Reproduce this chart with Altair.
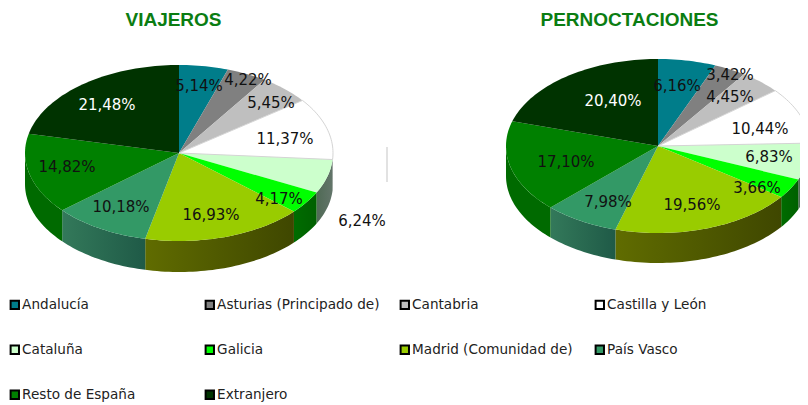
import math
import altair as alt

NAMES = ["Andalucía", "Asturias (Principado de)", "Cantabria", "Castilla y León", "Cataluña",
         "Galicia", "Madrid (Comunidad de)", "País Vasco", "Resto de España", "Extranjero"]
VIAJEROS = [5.14, 4.22, 5.45, 11.37, 6.24, 4.17, 16.93, 10.18, 14.82, 21.48]
PERNOCT = [6.16, 3.42, 4.45, 10.44, 6.83, 3.66, 19.56, 7.98, 17.10, 20.40]
COLORS = ["#007d8a", "#808080", "#bfbfbf", "#ffffff", "#ccffcc",
          "#00ff00", "#99cc00", "#339966", "#008000", "#003300"]
# left / right colour of the visible wall of each slice
WALLS = {"Castilla y León": ("#cfcfcf", "#cfcfcf"),
         "Cataluña": ("#4f6a55", "#63756a"),
         "Galicia": ("#006c00", "#006000"),
         "Madrid (Comunidad de)": ("#606c00", "#3f4700"),
         "País Vasco": ("#33795a", "#1f5a47"),
         "Resto de España": ("#006a00", "#006a00")}

# layout of each pie, separate from the data
LEFT = dict(title="VIAJEROS", tx=165.5, cx=171, cy=145, rx=154, ry=88, depth=31)
RIGHT = dict(title="PERNOCTACIONES", tx=621.5, cx=650, cy=138, rx=152, ry=87, depth=30)
# label centres in chart pixels
LEFT_LABELS = [(191, 78), (240, 72), (263, 95), (277, 131), (354, 213),
               (271, 191), (203, 207), (113, 199), (59, 159), (99, 97)]
RIGHT_LABELS = [(669, 78), (722, 67), (722, 89), (752, 121), (761, 149),
                (749, 180), (684, 197), (600, 194), (558, 154), (605, 93)]
FONT = "DejaVu Sans"
TITLE_FONT = "Liberation Sans"


def pt(p, deg, dy=0.0):
    t = math.radians(deg)
    return [p["cx"] + p["rx"] * math.sin(t), p["cy"] - p["ry"] * math.cos(t) + dy]


def arc(a, b):
    n = max(2, int(abs(b - a) / 1.5) + 1)
    return [a + (b - a) * i / n for i in range(n + 1)]


def feature(name, ring):
    return {"type": "Feature", "properties": {"name": name},
            "geometry": {"type": "Polygon", "coordinates": [ring + [ring[0]]]}}


def build(p, values):
    tops, walls = [], []
    acc = 0.0
    for name, v in zip(NAMES, values):
        a, b = acc * 3.6, (acc + v) * 3.6
        acc += v
        centre = [p["cx"], p["cy"]]
        tops.append(feature(name, [centre] + [pt(p, d) for d in arc(a, b)]))
        lo, hi = max(a, 90.0), min(b, 270.0)
        if hi > lo:
            top = [pt(p, d) for d in arc(lo, hi)]
            bottom = [pt(p, d, p["depth"]) for d in arc(hi, lo)]
            walls.append((name, feature(name, top + bottom)))
    return tops, walls


PROJ = dict(type="identity", scale=1, translate=[0, 0])
layers = []
all_tops = []
text_rows = []
for p, vals, pos in ((LEFT, VIAJEROS, LEFT_LABELS), (RIGHT, PERNOCT, RIGHT_LABELS)):
    tops, walls = build(p, vals)
    all_tops += tops
    for name, f in walls:
        c0, c1 = WALLS[name]
        grad = alt.LinearGradient(gradient="linear", x1=0, y1=0, x2=1, y2=0,
                                  stops=[alt.GradientStop(offset=0, color=c0),
                                         alt.GradientStop(offset=1, color=c1)])
        layers.append(alt.Chart(alt.InlineData(values=[f])).mark_geoshape(
            fill=grad, stroke=None, strokeWidth=0).project(**PROJ))
    for name, v, (x, y) in zip(NAMES, vals, pos):
        text_rows.append({"lon": x, "lat": y, "label": f"{v:.2f}%".replace(".", ","),
                          "name": name})

top_layer = alt.Chart(alt.InlineData(values=all_tops)).mark_geoshape(strokeWidth=0).encode(
    fill=alt.Fill("properties.name:N",
                  scale=alt.Scale(domain=NAMES, range=COLORS),
                  legend=alt.Legend(orient="none", legendX=0, legendY=290, columns=4,
                                    direction="horizontal",
                                    title=None, gridAlign="all", columnPadding=16,
                                    rowPadding=28, symbolType="square", symbolSize=70,
                                    symbolStrokeColor="black", symbolStrokeWidth=2,
                                    labelFont=FONT, labelFontSize=13.6, labelColor="#222222",
                                    labelOffset=0.5, labelLimit=220, padding=0))
).project(**PROJ)
layers.append(top_layer)

white_edge = alt.Chart(alt.InlineData(values=[f for f in all_tops
                                              if f["properties"]["name"] == "Castilla y León"])
                       ).mark_geoshape(fillOpacity=0, stroke="#d4d4d4", strokeWidth=1).project(**PROJ)
layers.append(white_edge)

stray = {"type": "Feature", "properties": {},
         "geometry": {"type": "LineString", "coordinates": [[379, 139], [379, 174]]}}
layers.append(alt.Chart(alt.InlineData(values=[stray])).mark_geoshape(
    filled=False, stroke="#e2e2e2", strokeWidth=2).project(**PROJ))

labels = alt.Chart(alt.InlineData(values=text_rows)).mark_text(
    font=FONT, fontSize=15, baseline="middle", align="center").encode(
    longitude="lon:Q", latitude="lat:Q", text="label:N",
    color=alt.condition(alt.datum.name == "Extranjero", alt.value("white"), alt.value("#111111"))
).project(**PROJ)
layers.append(labels)

title_rows = [{"lon": LEFT["tx"], "lat": 17.5, "label": LEFT["title"]},
              {"lon": RIGHT["tx"], "lat": 17.5, "label": RIGHT["title"]}]
titles = alt.Chart(alt.InlineData(values=title_rows)).mark_text(
    font=TITLE_FONT, fontSize=19, fontWeight="bold", color="#0b7d12",
    baseline="alphabetic", align="center").encode(
    longitude="lon:Q", latitude="lat:Q", text="label:N").project(**PROJ)
layers.append(titles)

chart = alt.layer(*layers).properties(
    width=792, height=397, padding=0, background="white",
    autosize=alt.AutoSizeParams(type="none")
).configure_view(stroke=None)

chart.save("out.html", embed_options={"renderer": "svg", "actions": False})
